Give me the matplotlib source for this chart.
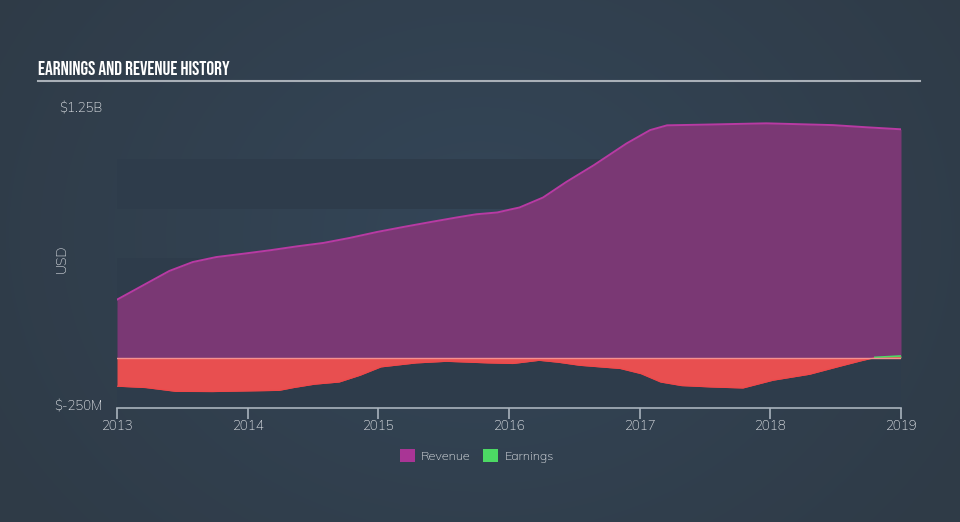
import numpy as np
import matplotlib
matplotlib.use("Agg")
import matplotlib.pyplot as plt
from matplotlib.patches import Patch
import logging
logging.getLogger("matplotlib.font_manager").setLevel(logging.ERROR)

# ---- data (billions USD) ----
rev_years = [2013.0, 2013.20, 2013.40, 2013.58, 2013.76, 2013.97, 2014.17, 2014.38,
             2014.58, 2014.78, 2014.99, 2015.19, 2015.40, 2015.60, 2015.75, 2015.91,
             2016.01, 2016.08, 2016.26, 2016.44, 2016.65, 2016.90, 2017.08, 2017.21,
             2017.46, 2017.97, 2018.48, 2018.74, 2019.0]
revenue = [0.292, 0.364, 0.436, 0.481, 0.506, 0.523, 0.540, 0.560,
           0.577, 0.602, 0.632, 0.657, 0.682, 0.705, 0.721, 0.730,
           0.745, 0.755, 0.805, 0.884, 0.968, 1.077, 1.144, 1.168,
           1.171, 1.178, 1.169, 1.158, 1.148]

earn_years = [2013.0, 2013.22, 2013.45, 2013.73, 2014.24, 2014.35, 2014.51, 2014.70,
              2014.86, 2015.02, 2015.29, 2015.52, 2015.84, 2016.03, 2016.23, 2016.38,
              2016.54, 2016.85, 2017.01, 2017.16, 2017.32, 2017.55, 2017.79, 2018.02,
              2018.30, 2018.53, 2018.69, 2018.80, 2019.0]
earnings = [-0.143, -0.150, -0.169, -0.170, -0.164, -0.150, -0.133, -0.122,
            -0.088, -0.046, -0.026, -0.018, -0.026, -0.029, -0.013, -0.023,
            -0.038, -0.054, -0.080, -0.122, -0.140, -0.147, -0.152, -0.113,
            -0.083, -0.043, -0.016, 0.002, 0.009]

x_ticks = [2013, 2014, 2015, 2016, 2017, 2018, 2019]
y_tick_vals = [1.25, -0.25]
y_tick_labels = ["$1.25B", "$-250M"]
legend_labels = ["Revenue", "Earnings"]

UI_FONT = ["Muli", "Mulish", "Nunito Sans", "DejaVu Sans"]
TITLE_FONT = ["Bebas Neue", "Oswald", "Anton", "Fjalla One", "Roboto Condensed", "DejaVu Sans"]
plt.rcParams["font.family"] = UI_FONT

# ---- figure ----
W, H = 960, 522
fig = plt.figure(figsize=(W / 100, H / 100), dpi=100)

# radial background gradient
bg = fig.add_axes([0, 0, 1, 1], zorder=-10)
yy, xx = np.mgrid[0:H, 0:W]
r = np.sqrt(((xx - W * 0.5) / (W * 0.6)) ** 2 + ((yy - H * 0.45) / (H * 0.9)) ** 2)
r = np.clip(r, 0, 1)[..., None]
c_in = np.array([52, 70, 88]) / 255
c_out = np.array([47, 59, 71]) / 255
img = c_in * (1 - r) + c_out * r
bg.imshow(img, aspect="auto", extent=[0, 1, 0, 1])
bg.axis("off")

left, right = 117 / W, 901 / W
bottom, top = (H - 407.5) / H, (H - 109) / H
ax = fig.add_axes([left, bottom, right - left, top - bottom])
ax.set_facecolor("none")

band_col = "#2e3c4b"
for lo, hi in [(0.75, 1.0), (0.25, 0.5), (-0.25, 0.0)]:
    ax.axhspan(lo, hi, color=band_col, zorder=0, lw=0)

rx = np.array(rev_years)
rv = np.array(revenue)
ax.fill_between(rx, 0, rv, color="#7a3874", lw=0, zorder=2)
ax.plot(rx, rv, color="#b83aa3", lw=1.4, zorder=3, solid_joinstyle="round")

ex = np.array(earn_years)
ev = np.array(earnings)
ax.fill_between(ex, 0, ev, where=ev <= 0, interpolate=True, color="#e84f50", lw=0, zorder=4)
ax.fill_between(ex, 0, ev, where=ev >= 0, interpolate=True, color="#4cd964", lw=0, zorder=4)
ax.plot(ex, np.minimum(ev, 0), color="#f0484a", lw=0.8, zorder=4)
ax.plot(ex[ev >= 0], ev[ev >= 0], color="#4cd964", lw=1.2, zorder=5)
ax.axhline(0, color="#f59090", lw=1.0, zorder=5)

ax.set_xlim(2013, 2019)
ax.set_ylim(-0.25, 1.25)
for s in ["top", "right", "left"]:
    ax.spines[s].set_visible(False)
ax.spines["bottom"].set_color("#a9b3bd")
ax.spines["bottom"].set_linewidth(1.2)
ax.set_xticks(x_ticks)
ax.set_xticklabels([str(t) for t in x_ticks])
ax.tick_params(axis="x", colors="#a9b3bd", length=8, width=1.2, direction="out",
               labelcolor="#e2e5e9", labelsize=9.5, pad=1)
ax.set_yticks([])

for v, lab in zip(y_tick_vals, y_tick_labels):
    ax.text(-0.018, (v + 0.25) / 1.5, lab, transform=ax.transAxes, ha="right",
            va="center", color="#e2e5e9", fontsize=9.5)
fig.text(62 / W, 1 - 259 / H, "USD", rotation=90, ha="center", va="center",
         color="#d5d9de", fontsize=10)

# title, sized to the reference width
title = fig.text(38 / W, 1 - 68 / H, "EARNINGS AND REVENUE HISTORY",
                 family=TITLE_FONT, fontweight="bold",
                 color="white", fontsize=13, ha="left", va="center")
fig.canvas.draw()
tw = title.get_window_extent().width
title.set_fontsize(13 * 192 / tw)
fig.add_artist(plt.Line2D([38 / W, 920 / W], [1 - 81 / H, 1 - 81 / H],
                          color="#a9b0b8", lw=1.5))

handles = [Patch(facecolor="#a93595", edgecolor="none"),
           Patch(facecolor="#4cd964", edgecolor="none")]
fig.legend(handles, legend_labels, loc="center", bbox_to_anchor=(477 / W, 1 - 456 / H),
           ncol=2, frameon=False, labelcolor="#e2e5e9", fontsize=9,
           handlelength=1.2, handleheight=1.2, columnspacing=1.0, handletextpad=0.5)

fig.savefig("out.png", dpi=100)
